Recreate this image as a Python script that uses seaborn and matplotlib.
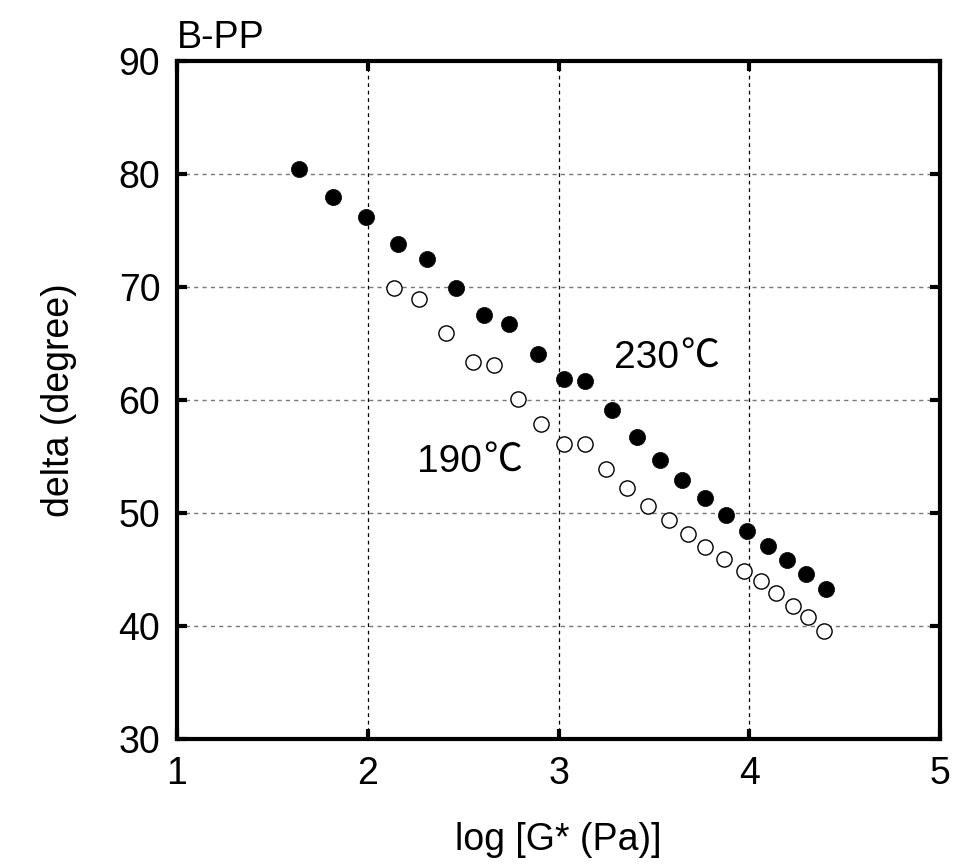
import pandas as pd
import matplotlib
matplotlib.use("Agg")
import matplotlib.pyplot as plt
import seaborn as sns

# 230 C (filled) and 190 C (open) data
x_230 = [1.64, 1.82, 1.99, 2.16, 2.31, 2.46, 2.61, 2.74, 2.89, 3.03, 3.14, 3.28,
         3.41, 3.53, 3.65, 3.77, 3.88, 3.99, 4.10, 4.20, 4.30, 4.40]
y_230 = [80.4, 78.0, 76.2, 73.8, 72.5, 69.9, 67.5, 66.7, 64.1, 61.9, 61.7, 59.1,
         56.7, 54.7, 52.9, 51.3, 49.8, 48.4, 47.1, 45.8, 44.6, 43.3]
x_190 = [2.14, 2.27, 2.41, 2.55, 2.66, 2.79, 2.91, 3.03, 3.14, 3.25, 3.36, 3.47,
         3.58, 3.68, 3.77, 3.87, 3.97, 4.06, 4.14, 4.23, 4.31, 4.39]
y_190 = [69.9, 68.9, 65.9, 63.4, 63.1, 60.1, 57.9, 56.1, 56.1, 53.9, 52.2, 50.6,
         49.4, 48.1, 47.0, 45.9, 44.9, 44.0, 42.9, 41.8, 40.8, 39.6]

x_ticks = [1, 2, 3, 4, 5]
y_ticks = [30, 40, 50, 60, 70, 80, 90]

sns.set_style("ticks")
plt.rcParams['font.family'] = ['Liberation Sans', 'Noto Sans CJK JP', 'DejaVu Sans']
plt.rcParams['text.color'] = 'black'
plt.rcParams['axes.labelcolor'] = 'black'
plt.rcParams['xtick.color'] = 'black'
plt.rcParams['ytick.color'] = 'black'

df230 = pd.DataFrame({'logG': x_230, 'delta': y_230})
df190 = pd.DataFrame({'logG': x_190, 'delta': y_190})

fig = plt.figure(figsize=(9.58, 8.68), dpi=100)
ax = fig.add_axes([0.1848, 0.1486, 0.7964, 0.7811])

sns.scatterplot(data=df190, x='logG', y='delta', ax=ax, marker='o', s=120,
                facecolor='white', edgecolor='black', linewidth=1.0, zorder=3)
sns.scatterplot(data=df230, x='logG', y='delta', ax=ax, marker='o', s=135,
                color='black', edgecolor='black', linewidth=0.5, zorder=4)

ax.set_xlim(1, 5)
ax.set_ylim(30, 90)
ax.set_xticks(x_ticks)
ax.set_yticks(y_ticks)
ax.xaxis.grid(True, color='black', linestyle=(0, (3, 3)), linewidth=0.9)
ax.yaxis.grid(True, color='#777777', linestyle=(0, (3, 3)), linewidth=1.0)
ax.set_axisbelow(True)

for sp in ax.spines.values():
    sp.set_linewidth(3)
    sp.set_color('black')
ax.tick_params(direction='in', length=7, width=3, top=True, right=True,
               labelsize=27, pad=12)

ax.set_xlabel('log [G* (Pa)]', fontsize=27, labelpad=22)
ax.set_ylabel('delta (degree)', fontsize=27, labelpad=30)

# temperature labels: digits in Liberation Sans, the ℃ sign from the CJK font
for tx, ty, num in [(3.60, 63.7, '230'), (2.57, 54.5, '190')]:
    t = ax.text(tx - 0.14, ty, num, fontsize=28, ha='center', va='center')
    ax.annotate('℃', xy=(1, 0), xycoords=t, xytext=(1, 0),
                textcoords='offset points', fontsize=28, ha='left',
                va='bottom', family=['Noto Sans CJK JP'])

ax.text(0.0, 1.008, 'B-PP', transform=ax.transAxes, fontsize=27,
        ha='left', va='bottom')

fig.savefig('out.png', dpi=100)
